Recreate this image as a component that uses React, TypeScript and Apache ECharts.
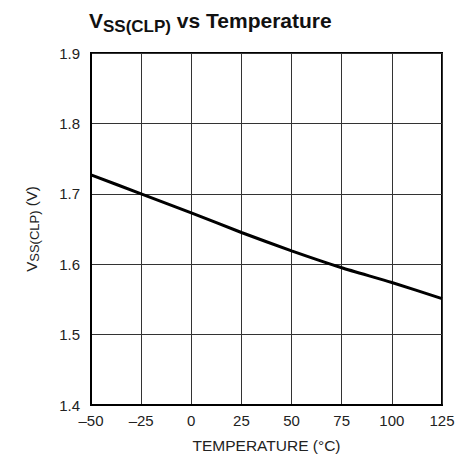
import React, { useEffect, useRef } from "react";
import * as echarts from "echarts";

const temperatures = [-50, -25, 0, 25, 50, 75, 100, 125];
const vssClp = [1.727, 1.7, 1.673, 1.645, 1.619, 1.595, 1.574, 1.551];
const xTicks = { min: -50, max: 125, interval: 25 };
const yTicks = { min: 1.4, max: 1.9, interval: 0.1 };

const FONT = "'Liberation Sans Narrow', 'Arial Narrow', 'Liberation Sans', Arial, sans-serif";

export default function App() {
  const ref = useRef<HTMLDivElement>(null);
  useEffect(() => {
    if (!ref.current) return;
    const chart = echarts.init(ref.current, undefined, { renderer: "svg" });
    chart.setOption({
      animation: false,
      backgroundColor: "#ffffff",
      textStyle: { fontFamily: FONT },
      graphic: [
        {
          type: "text",
          x: 89,
          y: 5,
          style: {
            text: "{m|V}{s|SS(CLP)}{m| vs Temperature}",
            fontFamily: FONT,
            rich: {
              m: { fontSize: 21, fontWeight: "bold", fontFamily: FONT, lineHeight: 30, fill: "#111" },
              s: { fontSize: 17, fontWeight: "bold", fontFamily: FONT, lineHeight: 17, verticalAlign: "bottom", fill: "#111" },
            },
          },
        },
      ],
      grid: {
        left: 91,
        right: 29,
        top: 53,
        bottom: 60,
        show: true,
        borderColor: "#000",
        borderWidth: 2,
      },
      xAxis: {
        type: "value",
        min: xTicks.min,
        max: xTicks.max,
        interval: xTicks.interval,
        name: "TEMPERATURE (°C)",
        nameLocation: "middle",
        nameGap: 32,
        nameTextStyle: { fontSize: 15.5, color: "#222", fontFamily: FONT },
        axisLine: { show: true, onZero: false, lineStyle: { color: "#000", width: 2 } },
        axisTick: { show: false },
        splitLine: { show: true, lineStyle: { color: "#333", width: 1 } },
        axisLabel: {
          fontSize: 15,
          color: "#222",
          fontFamily: FONT,
          margin: 8,
          formatter: (v: number) => String(v).replace("-", "\u2013"),
        },
      },
      yAxis: {
        type: "value",
        min: yTicks.min,
        max: yTicks.max,
        interval: yTicks.interval,
        name: "{m|V}{s|SS(CLP)}{m| (V)}",
        nameLocation: "middle",
        nameGap: 50,
        nameTextStyle: {
          fontFamily: FONT,
          rich: {
            m: { fontSize: 15, color: "#222", fontFamily: FONT, lineHeight: 20 },
            s: { fontSize: 13, color: "#222", fontFamily: FONT, lineHeight: 14, verticalAlign: "bottom" },
          },
        },
        axisLine: { show: true, onZero: false, lineStyle: { color: "#000", width: 2 } },
        axisTick: { show: false },
        splitLine: { show: true, lineStyle: { color: "#333", width: 1 } },
        axisLabel: {
          fontSize: 15,
          color: "#222",
          fontFamily: FONT,
          margin: 11,
          formatter: (v: number) => v.toFixed(1),
        },
      },
      series: [
        {
          type: "line",
          data: temperatures.map((t, i) => [t, vssClp[i]]),
          smooth: 0.2,
          symbol: "none",
          lineStyle: { color: "#000", width: 3 },
        },
      ],
    });
    return () => chart.dispose();
  }, []);
  return <div ref={ref} style={{ width: 471, height: 465, margin: -8 }} />;
}
